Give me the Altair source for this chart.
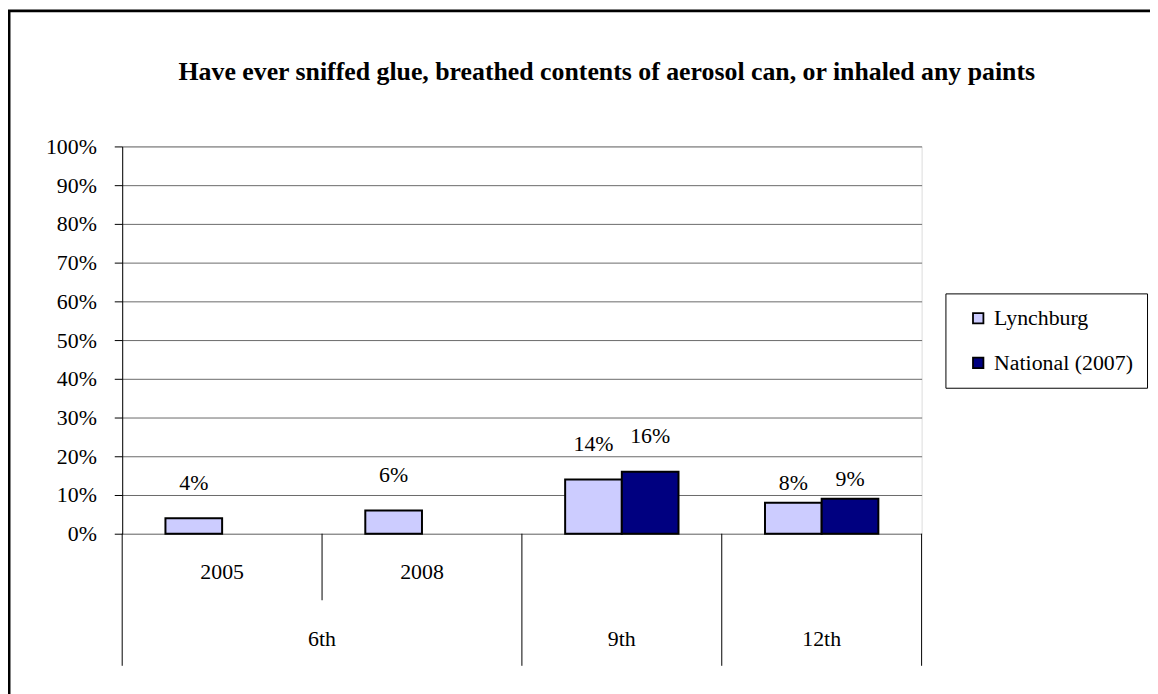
import altair as alt
import pandas as pd

# ---- data ----
slots = ["2005", "2008", "9th", "12th"]
grades = ["6th", "6th", "9th", "12th"]
series = ["Lynchburg", "National (2007)"]
lynchburg = [0.04, 0.06, 0.14, 0.08]
national = [None, None, 0.16, 0.09]
year_labels = ["2005", "2008", "", ""]
grade_groups = ["6th", "9th", "12th"]
grade_first_slot = ["2005", "9th", "12th"]
y_ticks = [0.0, 0.1, 0.2, 0.3, 0.4, 0.5, 0.6, 0.7, 0.8, 0.9, 1.0]
title_text = "Have ever sniffed glue, breathed contents of aerosol can, or inhaled any paints"

rows = []
for s, g, l, n in zip(slots, grades, lynchburg, national):
    if l is not None:
        rows.append({"slot": s, "grade": g, "series": series[0], "value": l})
    if n is not None:
        rows.append({"slot": s, "grade": g, "series": series[1], "value": n})
df = pd.DataFrame(rows)

year_df = pd.DataFrame({"slot": slots, "label": year_labels})
grade_df = pd.DataFrame({"slot": grade_first_slot, "label": grade_groups})

W, H = 805, 390
FONT = "Liberation Serif"
FS = 22
colors = ["#CCCCFF", "#000080"]

x_scale = alt.Scale(domain=slots, paddingInner=0, paddingOuter=0)
off_scale = alt.Scale(domain=series, paddingInner=0, paddingOuter=0.763)
y_scale = alt.Scale(domain=[0, 1])
y_axis = alt.Axis(format="%", values=y_ticks, title=None,
                  labelOverlap=False,
                  grid=True, gridColor="#6a6a6a", gridWidth=1,
                  domainColor="black", domainWidth=1,
                  tickColor="black", tickSize=8, tickWidth=1,
                  labelFont=FONT, labelFontSize=FS, labelColor="black",
                  labelPadding=18)

base = alt.Chart(df)

bars = base.mark_bar(stroke="black", strokeWidth=2).encode(
    x=alt.X("slot:N", scale=x_scale, axis=None, sort=slots),
    xOffset=alt.XOffset("series:N", scale=off_scale),
    y=alt.Y("value:Q", scale=y_scale, axis=y_axis),
    fill=alt.Fill("series:N", scale=alt.Scale(domain=series, range=colors),
                  legend=alt.Legend(title=None, orient="none", legendX=829, legendY=148,
                                    strokeColor="black", fillColor="white", padding=14,
                                    labelFont=FONT, labelFontSize=FS, labelColor="black",
                                    symbolType="square", symbolSize=110,
                                    symbolStrokeColor="black", symbolStrokeWidth=1.8,
                                    symbolOffset=8, rowPadding=23, labelOffset=5)),
)

labels = base.transform_calculate(
    ly="datum.value + (datum.grade == '12th' ? 0.05 : 0.092)"
).mark_text(font=FONT, fontSize=FS, color="black", baseline="middle").encode(
    x=alt.X("slot:N", scale=x_scale, sort=slots, axis=None),
    xOffset=alt.XOffset("series:N", scale=off_scale),
    y=alt.Y("ly:Q", scale=y_scale, axis=y_axis),
    text=alt.Text("value:Q", format=".0%"),
)

year_text = alt.Chart(year_df).mark_text(font=FONT, fontSize=FS, color="black", baseline="middle").encode(
    x=alt.X("slot:N", scale=x_scale, sort=slots, axis=None),
    y=alt.value(H + 39),
    text="label:N",
)

# 6th spans the first two slots: centre it on the boundary between them
grade_6 = alt.Chart(grade_df[grade_df["label"] == "6th"]).mark_text(
    font=FONT, fontSize=FS, color="black", baseline="middle").encode(
    x=alt.X("slot:N", scale=x_scale, sort=slots, bandPosition=1, axis=None),
    y=alt.value(H + 106),
    text="label:N",
)
grade_rest = alt.Chart(grade_df[grade_df["label"] != "6th"]).mark_text(
    font=FONT, fontSize=FS, color="black", baseline="middle").encode(
    x=alt.X("slot:N", scale=x_scale, sort=slots, bandPosition=0.5, axis=None),
    y=alt.value(H + 106),
    text="label:N",
)

sep_long = alt.Chart(pd.DataFrame({"slot": grade_first_slot})).mark_rule(
    color="black", strokeWidth=1).encode(
    x=alt.X("slot:N", scale=x_scale, sort=slots, bandPosition=0, axis=None),
    y=alt.value(H), y2=alt.value(H + 133),
)
sep_end = alt.Chart(pd.DataFrame({"slot": [slots[-1]]})).mark_rule(
    color="black", strokeWidth=1).encode(
    x=alt.X("slot:N", scale=x_scale, sort=slots, bandPosition=1, axis=None),
    y=alt.value(H), y2=alt.value(H + 133),
)
sep_short = alt.Chart(pd.DataFrame({"slot": ["2008"]})).mark_rule(
    color="black", strokeWidth=1).encode(
    x=alt.X("slot:N", scale=x_scale, sort=slots, bandPosition=0, axis=None),
    y=alt.value(H), y2=alt.value(H + 67),
)

frame = alt.Chart(pd.DataFrame({"k": [0]})).mark_rect(
    fill=None, stroke="black", strokeWidth=3).encode(
    x=alt.value(-114), x2=alt.value(1100), y=alt.value(-136.5), y2=alt.value(620),
)

title_mark = alt.Chart(pd.DataFrame({"t": [title_text]})).mark_text(
    font=FONT, fontSize=26, fontWeight="bold", color="black", baseline="alphabetic").encode(
    x=alt.value(488), y=alt.value(78 - 145), text="t:N",
)

chart = alt.layer(
    frame, bars, labels, year_text, grade_6, grade_rest, sep_long, sep_end, sep_short, title_mark
).properties(
    width=W, height=H,
    autosize=alt.AutoSizeParams(type="none"),
    padding={"left": 115, "top": 137, "right": 230, "bottom": 159},
).configure_view(strokeWidth=0, stroke="transparent").configure(background="white")

chart.save("out.html", embed_options={"renderer": "svg", "actions": False})
